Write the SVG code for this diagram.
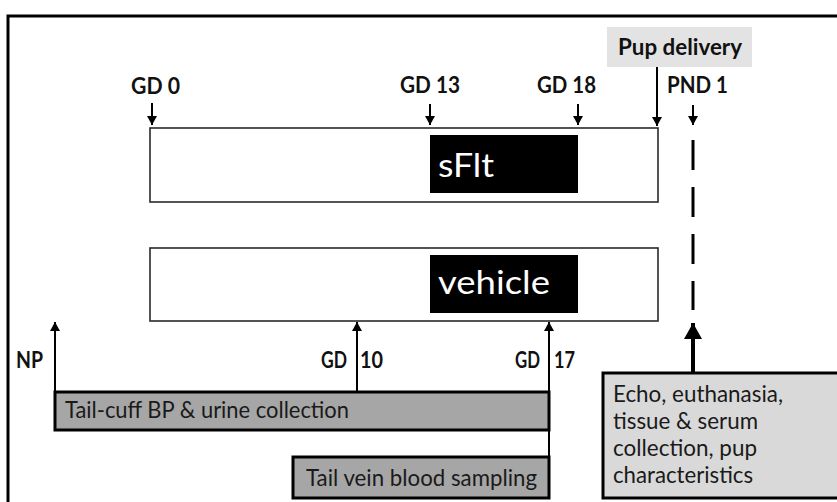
<svg xmlns="http://www.w3.org/2000/svg" width="837" height="502" viewBox="0 0 837 502">
<style>
  .lbl{font-family:Lato,"Liberation Sans",sans-serif;font-weight:bold;font-size:22.5px;fill:#111}
  .txt{font-family:Lato,"Liberation Sans",sans-serif;font-size:23px;fill:#1a1a1a}
  .big{font-family:Lato,"Liberation Sans",sans-serif;font-size:33px;fill:#fff}
  .tl{fill:#fff;stroke:#2a2a2a;stroke-width:1.6}
  .blk{fill:#000}
  .bar{fill:#a6a6a6;stroke:#000;stroke-width:3}
  .ar{stroke:#000;stroke-width:2;fill:none}
</style>
<defs>
  <marker id="sh" markerUnits="userSpaceOnUse" markerWidth="9" markerHeight="10" refX="9" refY="5" orient="auto">
    <path d="M0,0 L9,5 L0,10 z" fill="#000"/>
  </marker>
  <marker id="bh" markerUnits="userSpaceOnUse" markerWidth="16" markerHeight="18" refX="16" refY="9" orient="auto">
    <path d="M0,0 L16,9 L0,18 z" fill="#000"/>
  </marker>
</defs>
<rect x="0" y="0" width="837" height="502" fill="#fff"/>
<g id="frame">
  <path d="M8,502 L8,16 L837,16" fill="none" stroke="#000" stroke-width="3"/>
</g>
<g id="sflt-row">
  <rect class="tl" x="150" y="128" width="508" height="74"/>
  <rect class="blk" x="430" y="135" width="148" height="58"/>
  <text class="big" x="438" y="177" textLength="56" lengthAdjust="spacingAndGlyphs">sFlt</text>
</g>
<g id="vehicle-row">
  <rect class="tl" x="150" y="248" width="508" height="73"/>
  <rect class="blk" x="430" y="255" width="148" height="58"/>
  <text class="big" x="438" y="294" textLength="112" lengthAdjust="spacingAndGlyphs">vehicle</text>
</g>
<g id="pup-delivery">
  <rect x="607" y="27" width="145" height="40" fill="#e3e3e3"/>
  <text class="lbl" x="618" y="55" textLength="124" lengthAdjust="spacingAndGlyphs">Pup delivery</text>
</g>
<g id="labels-top">
  <text class="lbl" x="131" y="94" textLength="49" lengthAdjust="spacingAndGlyphs">GD 0</text>
  <text class="lbl" x="400" y="93" textLength="60" lengthAdjust="spacingAndGlyphs">GD 13</text>
  <text class="lbl" x="537" y="93" textLength="59" lengthAdjust="spacingAndGlyphs">GD 18</text>
  <text class="lbl" x="667" y="93" textLength="61" lengthAdjust="spacingAndGlyphs">PND 1</text>
</g>
<g id="labels-bottom">
  <text class="lbl" x="16" y="368" textLength="27" lengthAdjust="spacingAndGlyphs">NP</text>
  <text class="lbl" x="321" y="368" textLength="26" lengthAdjust="spacingAndGlyphs">GD</text>
  <text class="lbl" x="360" y="368" textLength="23" lengthAdjust="spacingAndGlyphs">10</text>
  <text class="lbl" x="515" y="368" textLength="25" lengthAdjust="spacingAndGlyphs">GD</text>
  <text class="lbl" x="554" y="368" textLength="21" lengthAdjust="spacingAndGlyphs">17</text>
</g>
<g id="tail-cuff">
  <rect class="bar" x="55" y="392" width="494" height="38"/>
  <text class="txt" x="65" y="418" textLength="284" lengthAdjust="spacingAndGlyphs">Tail-cuff BP &amp; urine collection</text>
</g>
<g id="tail-vein">
  <rect class="bar" x="293" y="457" width="256" height="41"/>
  <text class="txt" x="306" y="486" textLength="231" lengthAdjust="spacingAndGlyphs">Tail vein blood sampling</text>
</g>
<g id="echo">
  <rect x="603" y="373" width="240" height="125" fill="#d9d9d9" stroke="#000" stroke-width="3"/>
  <text class="txt" x="613" y="402" textLength="170" lengthAdjust="spacingAndGlyphs">Echo, euthanasia,</text>
  <text class="txt" x="613" y="429" textLength="145" lengthAdjust="spacingAndGlyphs">tissue &amp; serum</text>
  <text class="txt" x="613" y="456" textLength="144" lengthAdjust="spacingAndGlyphs">collection, pup</text>
  <text class="txt" x="613" y="483" textLength="140" lengthAdjust="spacingAndGlyphs">characteristics</text>
</g>
<g id="connectors">
  <line class="ar" x1="152" y1="103" x2="152" y2="125" marker-end="url(#sh)"/>
  <line class="ar" x1="430" y1="104" x2="430" y2="125" marker-end="url(#sh)"/>
  <line class="ar" x1="578" y1="104" x2="578" y2="125" marker-end="url(#sh)"/>
  <line class="ar" x1="657" y1="67" x2="657" y2="126" marker-end="url(#sh)" stroke-width="2.5"/>
  <line class="ar" x1="693" y1="105" x2="693" y2="125" marker-end="url(#sh)"/>
  <line x1="693" y1="140" x2="693" y2="310" stroke="#000" stroke-width="3" stroke-dasharray="30 17"/>
  <line class="ar" x1="55" y1="430" x2="55" y2="322" marker-end="url(#sh)"/>
  <line class="ar" x1="357" y1="392" x2="357" y2="322" marker-end="url(#sh)"/>
  <line class="ar" x1="549" y1="498" x2="549" y2="322" marker-end="url(#sh)"/>
  <line x1="693" y1="373" x2="693" y2="323" stroke="#000" stroke-width="4" marker-end="url(#bh)"/>
</g>
</svg>
